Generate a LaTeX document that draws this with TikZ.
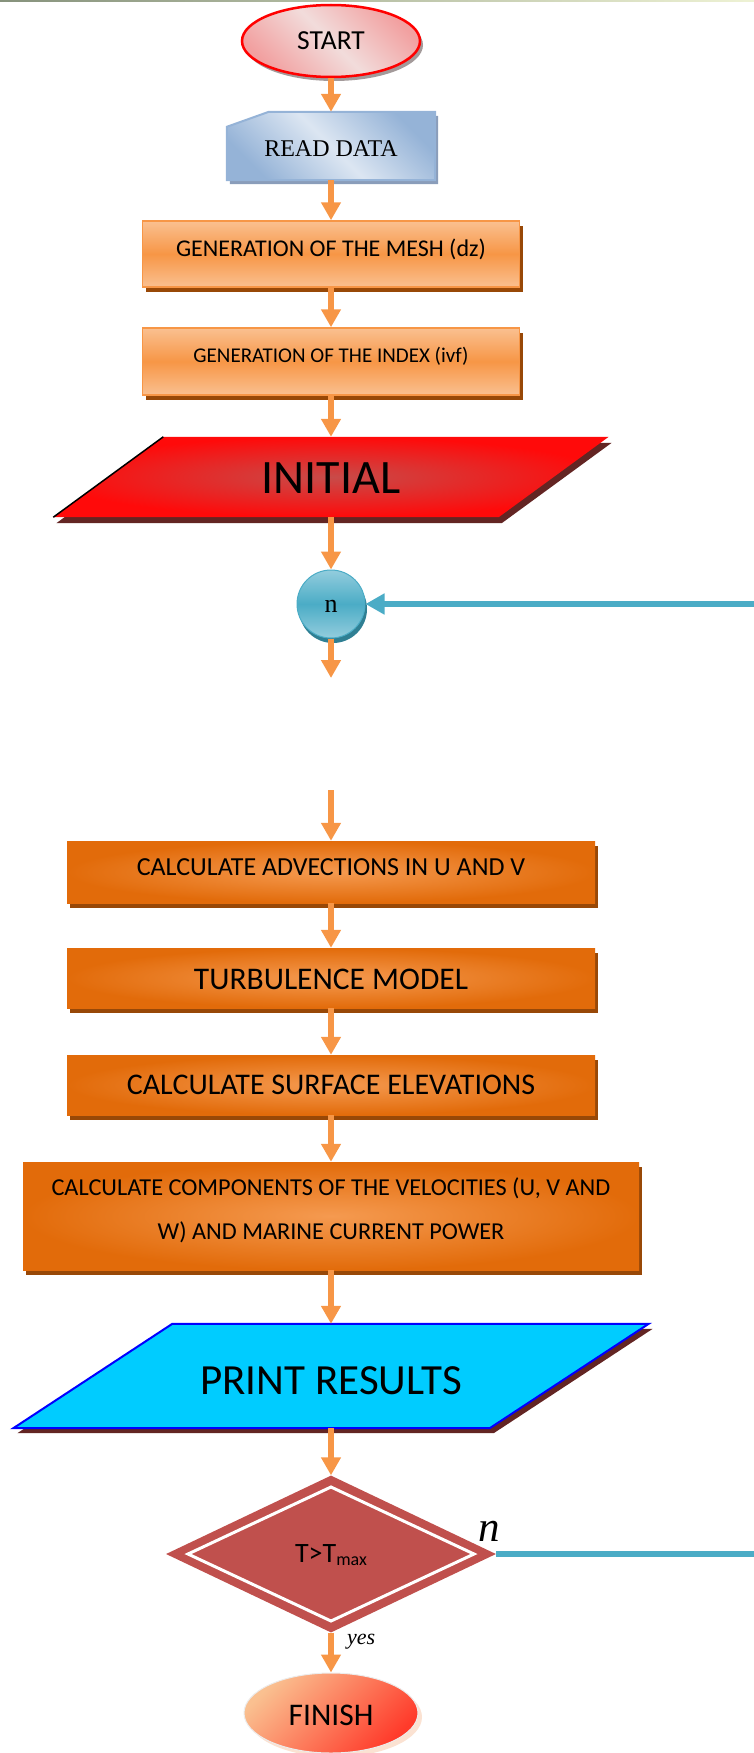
\documentclass[tikz,border=0pt]{standalone}
\usepackage{fontspec}
\setmainfont{Carlito}
\newfontfamily\tnr{Liberation Serif}
\usetikzlibrary{shapes.geometric,arrows.meta,shadows}
\pgfdeclarelayer{background}
\pgfsetlayers{background,main}

\definecolor{arrorange}{HTML}{F79646}
\definecolor{loopteal}{HTML}{4BACC6}
\definecolor{teallight}{HTML}{93CDDD}
\definecolor{tealshadow}{HTML}{2F7F93}
\definecolor{peach}{HTML}{FAC090}
\definecolor{orangemid}{HTML}{F59A50}
\definecolor{darkorange}{HTML}{E26B0A}
\definecolor{brownshadow}{HTML}{984807}
\definecolor{maroonshadow}{HTML}{632523}
\definecolor{decred}{HTML}{C0504D}
\definecolor{cyanfill}{HTML}{00CCFF}
\definecolor{printedge}{HTML}{0000FF}
\definecolor{inired}{HTML}{C84B49}
\definecolor{brightred}{HTML}{FF0A0A}
\definecolor{startpink}{HTML}{F2A0A0}
\definecolor{startlight}{HTML}{F2DCDB}
\definecolor{startshadow}{HTML}{A39A9A}
\definecolor{readdark}{HTML}{95B3D7}
\definecolor{readlight}{HTML}{DCE6F2}
\definecolor{readshadow}{HTML}{8A9DBA}
\definecolor{finishred}{HTML}{FF3A2A}
\definecolor{finishglow}{HTML}{FBE2D2}
\definecolor{ruleleft}{HTML}{86927C}
\definecolor{ruleright}{HTML}{EEF2D4}

\tikzset{
  flowarrow/.style={draw=arrorange, line width=6pt, -{Triangle[width=19pt,length=18pt]}},
  returnline/.style={draw=loopteal, line width=6.5pt},
  lightbox/.style={rectangle, inner sep=0pt, minimum width=377pt, draw=arrorange,
    line width=1.5pt, top color=peach, bottom color=peach, middle color=arrorange,
    general shadow={shadow xshift=3pt, shadow yshift=-5pt, fill=brownshadow}, text depth=0pt},
  darkbox/.style={rectangle, inner sep=0pt, minimum width=528pt, inner color=orangemid,
    outer color=darkorange,
    general shadow={shadow xshift=3pt, shadow yshift=-5pt, fill=brownshadow}, text depth=0pt},
  textonly/.style={rectangle, inner sep=0pt, text depth=0pt},
}

\begin{document}
\begin{tikzpicture}[x=1pt,y=-1pt]
\useasboundingbox (0,0) rectangle (754,1753);

% thin rule along the top
\shade[left color=ruleleft, right color=ruleright] (0,0) rectangle (754,2);

% start / read / mesh / index
\node[ellipse, inner sep=0pt, minimum width=178pt, minimum height=72pt, draw=red,
  line width=2.5pt, top color=startpink, bottom color=startpink, middle color=startlight,
  shading angle=-45, general shadow={shadow xshift=3pt, shadow yshift=-4pt, fill=startshadow},
  font=\fontsize{27.5pt}{33pt}\selectfont, text height=18pt, text depth=0pt]
  (start) at (331,41) {START};

\node[textonly, minimum width=208pt, minimum height=68pt,
  font=\tnr\fontsize{24pt}{29pt}\selectfont, text height=20pt]
  (read) at (331,146) {READ DATA};

\node[lightbox, minimum height=66pt, font=\fontsize{24pt}{29pt}\selectfont, text height=4pt]
  (mesh) at (331,254) {GENERATION OF THE MESH (dz)};

\node[lightbox, minimum height=67pt, font=\fontsize{21pt}{25pt}\selectfont, text height=1pt]
  (index) at (331,361.5) {GENERATION OF THE INDEX (ivf)};

\node[textonly, minimum width=445pt, minimum height=80pt,
  font=\fontsize{48pt}{57pt}\selectfont, text height=32pt]
  (ini) at (331,477) {INITIAL};

% loop counter
\node[circle, inner sep=0pt, minimum size=68pt, draw=loopteal, line width=1pt,
  top color=teallight, bottom color=teallight, middle color=loopteal,
  general shadow={shadow xshift=2pt, shadow yshift=-5pt, fill=tealshadow},
  font=\tnr\fontsize{26pt}{31pt}\selectfont, text height=16pt, text depth=0pt]
  (ncirc) at (331,604) {n};

% computation steps
\node[darkbox, minimum height=62pt, font=\fontsize{26pt}{31pt}\selectfont, text height=6pt]
  (adv) at (331,872) {CALCULATE ADVECTIONS IN U AND V};
\node[darkbox, minimum height=60pt, font=\fontsize{31.5pt}{38pt}\selectfont, text height=22pt]
  (turb) at (331,978) {TURBULENCE MODEL};
\node[darkbox, minimum height=60pt, font=\fontsize{30pt}{36pt}\selectfont, text height=18pt]
  (surf) at (331,1085) {CALCULATE SURFACE ELEVATIONS};
\node[rectangle, inner sep=0pt, minimum width=616pt, minimum height=108pt,
  inner color=orangemid, outer color=darkorange,
  general shadow={shadow xshift=3pt, shadow yshift=-5pt, fill=brownshadow},
  align=center, font=\fontsize{24.3pt}{44pt}\selectfont]
  (vel) at (331,1216) {CALCULATE COMPONENTS OF THE VELOCITIES (U, V AND\\
  W) AND MARINE CURRENT POWER\rule[-15pt]{0pt}{0pt}};

\node[textonly, minimum width=476pt, minimum height=104pt,
  font=\fontsize{43pt}{52pt}\selectfont, text height=36pt]
  (print) at (331,1376) {PRINT RESULTS};

% decision
\node[diamond, inner sep=0pt, minimum width=330pt, minimum height=157pt, fill=decred,
  font=\fontsize{28pt}{34pt}\selectfont, text height=16pt, text depth=0pt]
  (dec) at (331,1554) {T>T\raisebox{-3.5pt}{\fontsize{18pt}{22pt}\selectfont max}};
\draw[white, line width=3pt] ([xshift=-143pt]dec.center) -- ([yshift=67pt]dec.center)
  -- ([xshift=143pt]dec.center) -- ([yshift=-67pt]dec.center) -- cycle;

\node[font=\tnr\itshape\fontsize{43pt}{50pt}\selectfont, anchor=base, inner sep=0pt]
  (nlabel) at (489,1541) {n};
\node[font=\tnr\itshape\fontsize{22pt}{26pt}\selectfont, anchor=base west, inner sep=0pt]
  (yeslabel) at (347,1644) {yes};

\node[ellipse, inner sep=0pt, minimum width=174pt, minimum height=80pt,
  draw=gray!15, line width=1pt, top color=peach, bottom color=finishred, shading angle=45,
  general shadow={shadow xshift=4pt, shadow yshift=-4pt, fill=finishglow},
  font=\fontsize{31.5pt}{38pt}\selectfont, text height=24pt, text depth=0pt]
  (finish) at (331,1713) {FINISH};

% outlines of the card and the two input/output shapes
\begin{pgfonlayer}{background}
  \fill[readshadow, transform canvas={shift={(3,4)}}]
    ([yshift=-15pt]read.north west) -- ([xshift=42pt]read.north west) -- (read.north east)
    -- (read.south east) -- (read.south west) -- cycle;
  \draw[draw=readdark, line width=2pt, top color=readdark, bottom color=readdark,
    middle color=readlight, shading angle=-45]
    ([yshift=-15pt]read.north west) -- ([xshift=42pt]read.north west) -- (read.north east)
    -- (read.south east) -- (read.south west) -- cycle;

  \fill[maroonshadow, transform canvas={shift={(3,6)}}]
    ([xshift=55pt]ini.north west) -- ([xshift=55pt]ini.north east)
    -- ([xshift=-55pt]ini.south east) -- ([xshift=-55pt]ini.south west) -- cycle;
  \shade[inner color=inired, outer color=brightred]
    ([xshift=55pt]ini.north west) -- ([xshift=55pt]ini.north east)
    -- ([xshift=-55pt]ini.south east) -- ([xshift=-55pt]ini.south west) -- cycle;
  \draw[black, line width=1.5pt] ([xshift=55pt]ini.north west) -- ([xshift=-55pt]ini.south west);

  \fill[maroonshadow, transform canvas={shift={(4,5)}}]
    ([xshift=79.5pt]print.north west) -- ([xshift=79.5pt]print.north east)
    -- ([xshift=-79.5pt]print.south east) -- ([xshift=-79.5pt]print.south west) -- cycle;
  \draw[draw=printedge, line width=2pt, fill=cyanfill]
    ([xshift=79.5pt]print.north west) -- ([xshift=79.5pt]print.north east)
    -- ([xshift=-79.5pt]print.south east) -- ([xshift=-79.5pt]print.south west) -- cycle;
\end{pgfonlayer}

% connectors
\coordinate (gapend) at (331,678);
\coordinate (gapstart) at (331,790);
\coordinate (loopout) at (754,1554);
\coordinate (loopin) at (754,604);

\draw[flowarrow] (start.south) -- (read.north);
\draw[flowarrow] (read.south) -- (mesh.north);
\draw[flowarrow] (mesh.south) -- (index.north);
\draw[flowarrow] (index.south) -- (ini.north);
\draw[flowarrow] (ini.south) -- (ncirc.north);
\draw[flowarrow] (ncirc.south) -- (gapend);
\draw[flowarrow] (gapstart) -- (adv.north);
\draw[flowarrow] (adv.south) -- (turb.north);
\draw[flowarrow] (turb.south) -- (surf.north);
\draw[flowarrow] (surf.south) -- (vel.north);
\draw[flowarrow] (vel.south) -- (print.north);
\draw[flowarrow] (print.south) -- (dec.north);
\draw[flowarrow] (dec.south) -- (finish.north);

\draw[returnline] (dec.east) -- (loopout);
\draw[returnline, -{Triangle[width=20pt,length=19pt]}] (loopin) -- (ncirc.east);
\end{tikzpicture}
\end{document}
